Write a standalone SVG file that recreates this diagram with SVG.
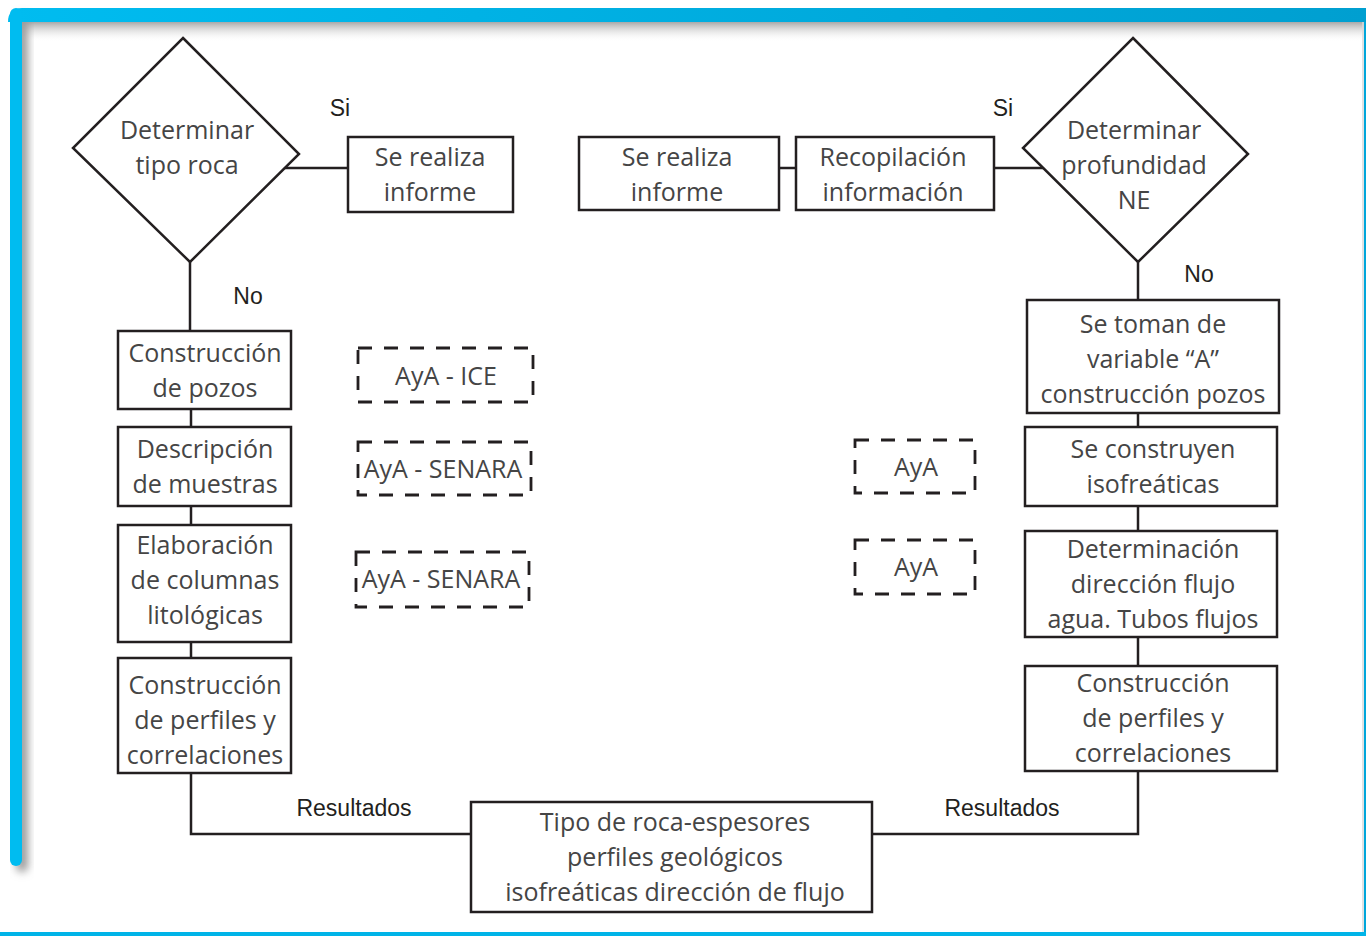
<svg xmlns="http://www.w3.org/2000/svg" width="1366" height="936" viewBox="0 0 1366 936">
<defs>
<linearGradient id="barH" x1="0" y1="0" x2="1" y2="0"><stop offset="0" stop-color="#00bcf0"/><stop offset="1" stop-color="#009fd0"/></linearGradient>
<linearGradient id="shTop" x1="0" y1="0" x2="0" y2="1"><stop offset="0" stop-color="#a8a8a8"/><stop offset="1" stop-color="#ffffff" stop-opacity="0"/></linearGradient>
<linearGradient id="shLeft" x1="0" y1="0" x2="1" y2="0"><stop offset="0" stop-color="#b0b0b0"/><stop offset="1" stop-color="#ffffff" stop-opacity="0"/></linearGradient>
<filter id="blur" x="-50%" y="-50%" width="200%" height="200%"><feGaussianBlur stdDeviation="4"/></filter>
<style>
.box{fill:#fff;stroke:#231f20;stroke-width:2.5}
.dash{fill:none;stroke:#231f20;stroke-width:2.8;stroke-dasharray:14 12}
.ln{fill:none;stroke:#231f20;stroke-width:2.5}
.t{font-family:"Open Sans",sans-serif;font-size:25px;fill:#454545;text-anchor:middle}
.l{font-family:"Liberation Sans",Arial,sans-serif;font-size:23px;fill:#231f20;text-anchor:middle}
</style>
</defs>
<rect width="1366" height="936" fill="#fff"/>
<!-- frame -->
<rect x="22" y="22" width="1344" height="20" fill="url(#shTop)"/>
<rect x="16" y="14" width="12" height="858" rx="6" fill="#9a9a9a" filter="url(#blur)"/>
<path d="M8,22 Q8,8 22,8 L1366,8 L1366,22 Z" fill="url(#barH)"/>
<rect x="10" y="8" width="12" height="858" rx="6" fill="#00bcf0"/>
<rect x="0" y="932" width="1366" height="4" fill="#00b4e8"/>
<line x1="1363" y1="22" x2="1363" y2="932" stroke="#d8d8d8" stroke-width="1.5"/>
<rect x="1364" y="22" width="2" height="910" fill="#00a6da"/>

<g id="connectors">
<line class="ln" x1="285" y1="168" x2="348" y2="168"/>
<line class="ln" x1="190" y1="262" x2="190" y2="331"/>
<line class="ln" x1="191" y1="409" x2="191" y2="427"/>
<line class="ln" x1="191" y1="506" x2="191" y2="525"/>
<line class="ln" x1="191" y1="642" x2="191" y2="658"/>
<path class="ln" d="M191,773 L191,834 L471,834"/>
<line class="ln" x1="779" y1="168" x2="796" y2="168"/>
<line class="ln" x1="994" y1="168" x2="1043" y2="168"/>
<line class="ln" x1="1138" y1="262" x2="1138" y2="300"/>
<line class="ln" x1="1138" y1="413" x2="1138" y2="427"/>
<line class="ln" x1="1138" y1="506" x2="1138" y2="531"/>
<line class="ln" x1="1138" y1="637" x2="1138" y2="666"/>
<path class="ln" d="M1138,771 L1138,834 L872,834"/>
<text class="l" x="340" y="116">Si</text>
<text class="l" x="248" y="304">No</text>
<text class="l" x="1003" y="116">Si</text>
<text class="l" x="1199" y="282">No</text>
<text class="l" x="354" y="816">Resultados</text>
<text class="l" x="1002" y="816">Resultados</text>
</g>

<g id="d1"><polygon class="box" points="183,38 299,154 190,262 73,148"/>
<text class="t" x="187" y="139">Determinar</text><text class="t" x="187" y="174">tipo roca</text></g>
<g id="n1"><rect class="box" x="348" y="137" width="165" height="75"/>
<text class="t" x="430" y="166">Se realiza</text><text class="t" x="430" y="201">informe</text></g>
<g id="n2"><rect class="box" x="579" y="137" width="200" height="73"/>
<text class="t" x="677" y="166">Se realiza</text><text class="t" x="677" y="201">informe</text></g>
<g id="n3"><rect class="box" x="796" y="137" width="198" height="73"/>
<text class="t" x="893" y="166">Recopilación</text><text class="t" x="893" y="201">información</text></g>
<g id="d2"><polygon class="box" points="1133,38 1248,154 1138,262 1023,148"/>
<text class="t" x="1134" y="139">Determinar</text><text class="t" x="1134" y="174">profundidad</text><text class="t" x="1134" y="209">NE</text></g>

<g id="l1"><rect class="box" x="118" y="331" width="173" height="78"/>
<text class="t" x="205" y="362">Construcción</text><text class="t" x="205" y="397">de pozos</text></g>
<g id="l2"><rect class="box" x="118" y="427" width="173" height="79"/>
<text class="t" x="205" y="458">Descripción</text><text class="t" x="205" y="493">de muestras</text></g>
<g id="l3"><rect class="box" x="118" y="525" width="173" height="117"/>
<text class="t" x="205" y="554">Elaboración</text><text class="t" x="205" y="589">de columnas</text><text class="t" x="205" y="624">litológicas</text></g>
<g id="l4"><rect class="box" x="118" y="658" width="173" height="115"/>
<text class="t" x="205" y="694">Construcción</text><text class="t" x="205" y="729">de perfiles y</text><text class="t" x="205" y="764">correlaciones</text></g>

<g id="r1"><rect class="box" x="1027" y="300" width="252" height="113"/>
<text class="t" x="1153" y="333">Se toman de</text><text class="t" x="1153" y="368">variable “A”</text><text class="t" x="1153" y="403">construcción pozos</text></g>
<g id="r2"><rect class="box" x="1025" y="427" width="252" height="79"/>
<text class="t" x="1153" y="458">Se construyen</text><text class="t" x="1153" y="493">isofreáticas</text></g>
<g id="r3"><rect class="box" x="1025" y="531" width="252" height="106"/>
<text class="t" x="1153" y="558">Determinación</text><text class="t" x="1153" y="593">dirección flujo</text><text class="t" x="1153" y="628">agua. Tubos flujos</text></g>
<g id="r4"><rect class="box" x="1025" y="666" width="252" height="105"/>
<text class="t" x="1153" y="692">Construcción</text><text class="t" x="1153" y="727">de perfiles y</text><text class="t" x="1153" y="762">correlaciones</text></g>

<g id="res"><rect class="box" x="471" y="802" width="401" height="110"/>
<text class="t" x="675" y="831">Tipo de roca-espesores</text><text class="t" x="675" y="866">perfiles geológicos</text><text class="t" x="675" y="901">isofreáticas dirección de flujo</text></g>

<g id="a1"><rect class="dash" x="358" y="348" width="175" height="54"/>
<text class="t" x="446" y="385">AyA - ICE</text></g>
<g id="a2"><rect class="dash" x="358" y="442" width="173" height="53"/>
<text class="t" x="443" y="478">AyA - SENARA</text></g>
<g id="a3"><rect class="dash" x="356" y="552" width="173" height="55"/>
<text class="t" x="441" y="588">AyA - SENARA</text></g>
<g id="a4"><rect class="dash" x="855" y="440" width="120" height="53"/>
<text class="t" x="916" y="476">AyA</text></g>
<g id="a5"><rect class="dash" x="855" y="540" width="120" height="54"/>
<text class="t" x="916" y="576">AyA</text></g>
</svg>
